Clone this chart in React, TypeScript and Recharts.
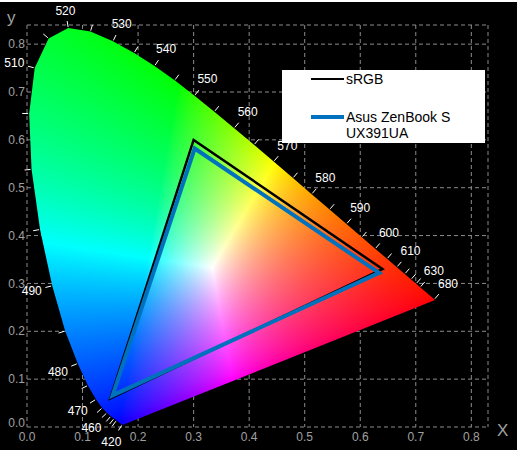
import React from 'react';
import { ScatterChart, Scatter, XAxis, YAxis, CartesianGrid, Legend } from 'recharts';

// CIE 1931 2° spectral locus, 5 nm steps
const LOCUS_NM = [
  380, 385, 390, 395, 400, 405, 410, 415, 420, 425, 430, 435, 440, 445, 450, 455, 460, 465, 470, 475,
  480, 485, 490, 495, 500, 505, 510, 515, 520, 525, 530, 535, 540, 545, 550, 555, 560, 565, 570, 575,
  580, 585, 590, 595, 600, 605, 610, 615, 620, 625, 630, 635, 640, 645, 650, 655, 660, 665, 670, 675,
  680, 685, 690, 695, 700,
];
const LOCUS_X = [
  0.1741, 0.174, 0.1738, 0.1736, 0.1733, 0.173, 0.1726, 0.1721, 0.1714, 0.1703, 0.1689, 0.1669, 0.1644,
  0.1611, 0.1566, 0.151, 0.144, 0.1355, 0.1241, 0.1096, 0.0913, 0.0687, 0.0454, 0.0235, 0.0082, 0.0039,
  0.0139, 0.0389, 0.0743, 0.1142, 0.1547, 0.1929, 0.2296, 0.2658, 0.3016, 0.3373, 0.3731, 0.4087, 0.4441,
  0.4788, 0.5125, 0.5448, 0.5752, 0.6029, 0.627, 0.6482, 0.6658, 0.6801, 0.6915, 0.7006, 0.7079, 0.714,
  0.719, 0.723, 0.726, 0.7283, 0.73, 0.7311, 0.732, 0.7327, 0.7334, 0.734, 0.7344, 0.7346, 0.7347,
];
const LOCUS_Y = [
  0.005, 0.005, 0.0049, 0.0049, 0.0048, 0.0048, 0.0048, 0.0048, 0.0051, 0.0058, 0.0069, 0.0086, 0.0109,
  0.0138, 0.0177, 0.0227, 0.0297, 0.0399, 0.0578, 0.0868, 0.1327, 0.2007, 0.295, 0.4127, 0.5384, 0.6548,
  0.7502, 0.812, 0.8338, 0.8262, 0.8059, 0.7816, 0.7543, 0.7243, 0.6923, 0.6589, 0.6245, 0.5896, 0.5547,
  0.5202, 0.4866, 0.4544, 0.4242, 0.3965, 0.3725, 0.3514, 0.334, 0.3197, 0.3083, 0.2993, 0.292, 0.2859,
  0.2809, 0.277, 0.274, 0.2717, 0.27, 0.2689, 0.268, 0.2673, 0.2666, 0.266, 0.2656, 0.2654, 0.2653,
];
const TICK_NM = [
  420, 445, 450, 455, 460, 465, 470, 475, 480, 485, 490, 495, 500, 505, 510, 515, 520, 525, 530, 535, 540,
  545, 550, 555, 560, 565, 570, 575, 580, 585, 590, 595, 600, 605, 610, 615, 620, 625, 630, 680,
];
const LABEL_NM = [420, 460, 470, 480, 490, 510, 520, 530, 540, 550, 560, 570, 580, 590, 600, 610, 630, 680];

// gamut triangles, order R, G, B
const SRGB_X = [0.64, 0.3, 0.15];
const SRGB_Y = [0.33, 0.6, 0.06];
const ASUS_X = [0.634, 0.302, 0.154];
const ASUS_Y = [0.322, 0.582, 0.066];

const AXIS_TICKS = [0, 0.1, 0.2, 0.3, 0.4, 0.5, 0.6, 0.7, 0.8];
const WHITE = [0.3127, 0.329];

const locusData = LOCUS_NM.map((nm, i) => ({ nm, x: LOCUS_X[i], y: LOCUS_Y[i] }));
const srgbData = SRGB_X.map((x, i) => ({ x, y: SRGB_Y[i] }));
const asusData = ASUS_X.map((x, i) => ({ x, y: ASUS_Y[i] }));

const SERIES_STYLE: Record<string, { color: string; width: number }> = {
  sRGB: { color: '#000000', width: 2.5 },
  'Asus ZenBook S UX391UA': { color: '#0072BD', width: 4 },
};
const SERIES_ORDER = Object.keys(SERIES_STYLE);

const FONT = 'Arial, "Liberation Sans", sans-serif';
const GRAY = '#a0a0a0';

// xy -> CIE RGB, clipped and normalised to full brightness
function xyToRgb(x: number, y: number) {
  const X = x / y;
  const Z = (1 - x - y) / y;
  let r = 2.3647 * X - 0.8966 - 0.4681 * Z;
  let g = -0.5152 * X + 1.4264 + 0.0887 * Z;
  let b = 0.0052 * X - 0.0144 + 1.0092 * Z;
  r = Math.max(r, 0);
  g = Math.max(g, 0);
  b = Math.max(b, 0);
  const m = Math.max(r, g, b) || 1;
  const f = (v: number) => Math.round(255 * Math.pow(v / m, 1 / 1.3));
  return [f(r), f(g), f(b)];
}

let cachedImage: { key: string; url: string } | null = null;

function buildImage(minX: number, minY: number, w: number, h: number, ax: number, bx: number, ay: number, by: number) {
  const key = [minX, minY, w, h, ax, bx, ay, by].join(',');
  if (cachedImage && cachedImage.key === key) return cachedImage.url;
  const canvas = document.createElement('canvas');
  canvas.width = w;
  canvas.height = h;
  const ctx = canvas.getContext('2d');
  if (!ctx) return '';
  const img = ctx.createImageData(w, h);
  for (let py = 0; py < h; py++) {
    const y = (minY + py + 0.5 - ay) / by;
    for (let px = 0; px < w; px++) {
      const x = (minX + px + 0.5 - ax) / bx;
      const k = (py * w + px) * 4;
      if (y <= 0.0005) continue;
      const [r, g, b] = xyToRgb(x, y);
      img.data[k] = r;
      img.data[k + 1] = g;
      img.data[k + 2] = b;
      img.data[k + 3] = 255;
    }
  }
  ctx.putImageData(img, 0, 0);
  const url = canvas.toDataURL();
  cachedImage = { key, url };
  return url;
}

// outward normal at point i, from neighbours at least 8 px away
function normalAt(pts: { x: number; y: number }[], i: number, cx: number, cy: number) {
  const d = (a: number) => Math.hypot(pts[a].x - pts[i].x, pts[a].y - pts[i].y);
  let j = i;
  while (j > 0 && d(j) < 8) j--;
  let k = i;
  while (k < pts.length - 1 && d(k) < 8) k++;
  const tx = pts[k].x - pts[j].x;
  const ty = pts[k].y - pts[j].y;
  const len = Math.hypot(tx, ty) || 1;
  let nx = -ty / len;
  let ny = tx / len;
  if (nx * (pts[i].x - cx) + ny * (pts[i].y - cy) < 0) {
    nx = -nx;
    ny = -ny;
  }
  return [nx, ny];
}

const renderLocus = (props: any) => {
  const pts: { x: number; y: number }[] = props.points || [];
  if (pts.length < 2) return <g />;
  const i1 = LOCUS_NM.indexOf(520);
  const bx = (pts[i1].x - pts[0].x) / (LOCUS_X[i1] - LOCUS_X[0]);
  const ax = pts[0].x - bx * LOCUS_X[0];
  const by = (pts[i1].y - pts[0].y) / (LOCUS_Y[i1] - LOCUS_Y[0]);
  const ay = pts[0].y - by * LOCUS_Y[0];
  const cx = ax + bx * WHITE[0];
  const cy = ay + by * WHITE[1];

  const minX = Math.floor(Math.min(...pts.map((p) => p.x)));
  const maxX = Math.ceil(Math.max(...pts.map((p) => p.x)));
  const minY = Math.floor(Math.min(...pts.map((p) => p.y)));
  const maxY = Math.ceil(Math.max(...pts.map((p) => p.y)));
  const w = maxX - minX;
  const h = maxY - minY;
  const url = buildImage(minX, minY, w, h, ax, bx, ay, by);
  const poly = pts.map((p) => `${p.x},${p.y}`).join(' ');

  return (
    <g>
      <defs>
        <clipPath id="locus-clip">
          <polygon points={poly} />
        </clipPath>
      </defs>
      <image
        href={url}
        x={minX}
        y={minY}
        width={w}
        height={h}
        preserveAspectRatio="none"
        clipPath="url(#locus-clip)"
      />
      {TICK_NM.map((nm) => {
        const i = LOCUS_NM.indexOf(nm);
        const [nx, ny] = normalAt(pts, i, cx, cy);
        const p = pts[i];
        return (
          <line
            key={`t${nm}`}
            x1={p.x + nx * 1}
            y1={p.y + ny * 1}
            x2={p.x + nx * 7}
            y2={p.y + ny * 7}
            stroke="#fff"
            strokeWidth={1}
          />
        );
      })}
      {LABEL_NM.map((nm) => {
        const i = LOCUS_NM.indexOf(nm);
        const [nx, ny] = normalAt(pts, i, cx, cy);
        const p = pts[i];
        const dist = 11 + Math.abs(nx) * 9 + Math.abs(ny) * 5.5;
        return (
          <text
            key={`l${nm}`}
            x={p.x + nx * dist}
            y={p.y + ny * dist}
            dy="0.35em"
            textAnchor="middle"
            fill="#fff"
            fontSize={12}
            fontFamily={FONT}
          >
            {nm}
          </text>
        );
      })}
    </g>
  );
};

const makeTriangle = (name: string) => (props: any) => {
  const pts: { x: number; y: number }[] = props.points || [];
  const st = SERIES_STYLE[name];
  return (
    <polygon
      points={pts.map((p) => `${p.x},${p.y}`).join(' ')}
      fill="none"
      stroke={st.color}
      strokeWidth={st.width}
      strokeLinejoin="miter"
      strokeMiterlimit={10}
    />
  );
};

const noShape = () => <g />;

const renderLegend = (props: any) => {
  const items = (props.payload || [])
    .filter((e: any) => SERIES_STYLE[e.value])
    .sort((a: any, b: any) => SERIES_ORDER.indexOf(a.value) - SERIES_ORDER.indexOf(b.value));
  return (
    <div
      style={{
        width: 203,
        height: 73,
        background: '#fff',
        position: 'relative',
        fontFamily: FONT,
        fontSize: 14,
        lineHeight: '16px',
        color: '#000',
      }}
    >
      {items.map((e: any, i: number) => {
        const st = SERIES_STYLE[e.value];
        return (
          <div key={e.value} style={{ position: 'absolute', left: 29, top: 1 + i * 38, width: 172 }}>
            <div
              style={{
                position: 'absolute',
                left: 0,
                top: 8 - st.width / 2,
                width: 33,
                height: st.width,
                background: st.color,
              }}
            />
            <div style={{ marginLeft: 35, width: 136 }}>{e.value}</div>
          </div>
        );
      })}
    </div>
  );
};

const YTick = (props: any) => {
  const v = props.payload.value;
  return (
    <text
      x={props.x}
      y={props.y + (v === 0 ? -4 : 0)}
      dy="0.35em"
      textAnchor="end"
      fill={GRAY}
      fontSize={12}
      fontFamily={FONT}
    >
      {v.toFixed(1)}
    </text>
  );
};

const XLabel = (props: any) => {
  const vb = props.viewBox || { x: 0, y: 0, width: 0 };
  return (
    <text x={vb.x + vb.width + 9} y={vb.y + 9} fill={GRAY} fontSize={17} fontFamily={FONT}>
      X
    </text>
  );
};

const YLabel = (props: any) => {
  const vb = props.viewBox || { x: 0, y: 0 };
  return (
    <text x={vb.x + 7} y={vb.y - 2} fill={GRAY} fontSize={17} fontFamily={FONT}>
      y
    </text>
  );
};

export default function App() {
  return (
    <div style={{ position: 'absolute', left: 0, top: 0, width: 517, height: 450, background: '#000' }}>
      <div style={{ position: 'absolute', left: 0, top: 0, width: 517, height: 2, background: '#fff' }} />
      <ScatterChart width={517} height={450} margin={{ top: 25, right: 29, bottom: 0, left: 0 }}>
        <CartesianGrid stroke="#8c8c8c" strokeDasharray="4 3" />
        <XAxis
          type="number"
          dataKey="x"
          domain={[0, 0.83]}
          ticks={AXIS_TICKS}
          interval={0}
          tickFormatter={(v: number) => v.toFixed(1)}
          axisLine={false}
          tickLine={false}
          tickSize={0}
          tickMargin={5}
          height={23}
          tick={{ fill: GRAY, fontSize: 12, fontFamily: FONT }}
          label={<XLabel />}
        />
        <YAxis
          type="number"
          dataKey="y"
          domain={[0, 0.84]}
          ticks={AXIS_TICKS}
          interval={0}
          axisLine={false}
          tickLine={false}
          tickSize={0}
          tickMargin={2}
          width={27}
          tick={<YTick />}
          label={<YLabel />}
        />
        <Scatter
          name="locus"
          data={locusData}
          fill="#fff"
          legendType="none"
          shape={noShape}
          line={renderLocus}
          lineType="joint"
          isAnimationActive={false}
        />
        <Scatter
          name="sRGB"
          data={srgbData}
          fill="#000000"
          legendType="line"
          shape={noShape}
          line={makeTriangle('sRGB')}
          lineType="joint"
          isAnimationActive={false}
        />
        <Scatter
          name="Asus ZenBook S UX391UA"
          data={asusData}
          fill="#0072BD"
          legendType="line"
          shape={noShape}
          line={makeTriangle('Asus ZenBook S UX391UA')}
          lineType="joint"
          isAnimationActive={false}
        />
        <Legend
          layout="vertical"
          align="center"
          verticalAlign="middle"
          content={renderLegend}
          wrapperStyle={{ position: 'absolute', left: 282, top: 70, width: 203, height: 73, margin: 0 }}
        />
      </ScatterChart>
    </div>
  );
}
